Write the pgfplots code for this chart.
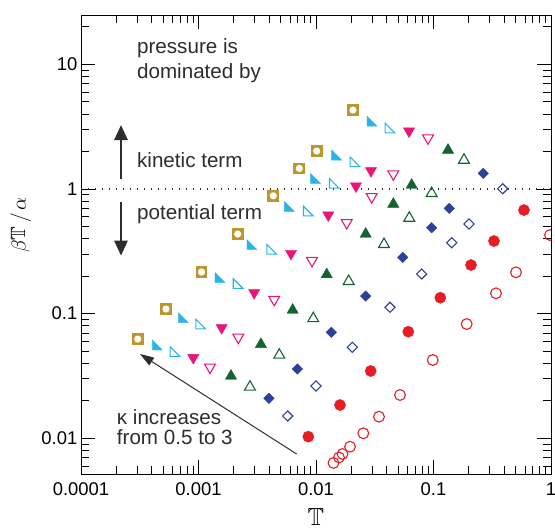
\documentclass[border=0pt]{standalone}
\usepackage{amssymb}
\usepackage{fontspec}
\setmainfont{Liberation Sans}
\usepackage{pgfplots}
\pgfplotsset{compat=1.18}
\usetikzlibrary{arrows.meta,calc}

\definecolor{cgold}{RGB}{190,150,45}
\definecolor{ccyan}{RGB}{40,180,230}
\definecolor{cmag}{RGB}{232,20,120}
\definecolor{cgreen}{RGB}{20,100,50}
\definecolor{cblue}{RGB}{45,65,155}
\definecolor{cred}{RGB}{228,30,36}
\definecolor{ctext}{RGB}{45,45,45}

\pgfdeclareplotmark{sqcirc}{%
  \pgfpathrectangle{\pgfpoint{-\pgfplotmarksize}{-\pgfplotmarksize}}{\pgfpoint{2\pgfplotmarksize}{2\pgfplotmarksize}}%
  \pgfusepath{fill}%
  \begin{pgfscope}%
  \pgfsetfillcolor{white}%
  \pgfpathcircle{\pgfpointorigin}{0.62\pgfplotmarksize}%
  \pgfusepath{fill}%
  \end{pgfscope}}
\pgfdeclareplotmark{rtri*}{%
  \pgfpathmoveto{\pgfpoint{-\pgfplotmarksize}{\pgfplotmarksize}}%
  \pgfpathlineto{\pgfpoint{-\pgfplotmarksize}{-\pgfplotmarksize}}%
  \pgfpathlineto{\pgfpoint{\pgfplotmarksize}{-\pgfplotmarksize}}%
  \pgfpathclose\pgfusepathqfillstroke}
\pgfdeclareplotmark{rtri}{%
  \pgfpathmoveto{\pgfpoint{-\pgfplotmarksize}{\pgfplotmarksize}}%
  \pgfpathlineto{\pgfpoint{-\pgfplotmarksize}{-\pgfplotmarksize}}%
  \pgfpathlineto{\pgfpoint{\pgfplotmarksize}{-\pgfplotmarksize}}%
  \pgfpathclose\pgfusepathqstroke}

\newcommand{\annfont}{\fontsize{20.7}{24}\selectfont}

\begin{document}
\begin{tikzpicture}
\begin{axis}[
  scale only axis, width=470bp, height=459.3bp,
  xmode=log, ymode=log,
  xmin=1e-4, xmax=1, ymin=0.00514, ymax=24.86,
  xtick={1e-4,1e-3,1e-2,1e-1,1},
  xticklabels={0.0001,0.001,0.01,0.1,1},
  minor xtick={2e-4,3e-4,4e-4,5e-4,6e-4,7e-4,8e-4,9e-4,
               2e-3,3e-3,4e-3,5e-3,6e-3,7e-3,8e-3,9e-3,
               2e-2,3e-2,4e-2,5e-2,6e-2,7e-2,8e-2,9e-2,
               0.2,0.3,0.4,0.5,0.6,0.7,0.8,0.9},
  ytick={0.01,0.1,1,10},
  yticklabels={0.01,0.1,1,10},
  minor ytick={0.006,0.007,0.008,0.009,
               0.02,0.03,0.04,0.05,0.06,0.07,0.08,0.09,
               0.2,0.3,0.4,0.5,0.6,0.7,0.8,0.9,
               2,3,4,5,6,7,8,9,20},
  tick align=inside,
  major tick length=14bp, minor tick length=8bp,
  tick style={black, line width=0.8bp},
  axis line style={black, line width=0.9bp},
  ticklabel style={font=\fontsize{18.5}{22}\selectfont},
  yticklabel style={inner sep=0pt, xshift=-3.5bp},
  xticklabel style={inner sep=0pt, yshift=-8.5bp},
  clip marker paths=true,
  xlabel={$\mathbb{T}$},
  xlabel style={font=\fontsize{24.88}{28}\selectfont, at={(axis description cs:0.5,-0.093)}, anchor=center},
  ylabel={$\beta\mathbb{T}\,/\,\alpha$},
  ylabel style={font=\fontsize{20.74}{24}\selectfont, at={(axis description cs:-0.128,0.543)}, anchor=center},
]

% reference line at 1
\addplot[ctext, line width=1.1bp, dash pattern=on 1.1bp off 5.9bp, forget plot] coordinates {(1e-4,1) (1,1)};

% gold squares with circle
\addplot[only marks, mark=sqcirc, mark size=5.8bp, cgold] coordinates {
(3.04e-4,0.0625) (5.29e-4,0.1089) (1.06e-3,0.2157) (2.157e-3,0.4349)
(4.33e-3,0.882) (7.21e-3,1.463) (0.01014,2.014) (0.02065,4.293)};

% cyan filled right triangles
\addplot[only marks, mark=rtri*, mark size=5bp, ccyan, mark options={line width=0.4bp}] coordinates {
(4.46e-4,0.05597) (7.42e-4,0.0927) (1.524e-3,0.1948) (2.852e-3,0.3582)
(5.93e-3,0.7227) (9.90e-3,1.216) (0.0150,1.870) (0.02997,3.503)};

% cyan open right triangles
\addplot[only marks, mark=rtri, mark size=4.8bp, ccyan, mark options={line width=1.1bp}] coordinates {
(6.31e-4,0.04951) (1.044e-3,0.0825) (2.17e-3,0.1743) (4.20e-3,0.3279)
(8.60e-3,0.6648) (0.01431,1.109) (0.02147,1.652) (0.04263,3.079)};

% magenta filled down triangles
\addplot[only marks, mark=triangle*, mark size=6.5bp, cmag, mark options={rotate=180, line width=0.4bp}] coordinates {
(9.03e-4,0.04431) (1.575e-3,0.0771) (2.979e-3,0.1471) (6.13e-3,0.3034)
(0.01273,0.6176) (0.02189,1.055) (0.02938,1.400) (0.0619,2.912)};

% magenta open down triangles
\addplot[only marks, mark=triangle, mark size=6.3bp, cmag, mark options={rotate=180, line width=1.1bp}] coordinates {
(1.253e-3,0.03711) (2.182e-3,0.06457) (4.41e-3,0.1298) (9.25e-3,0.2666)
(0.01826,0.5358) (0.02979,0.866) (0.0455,1.317) (0.0898,2.560)};

% green filled up triangles
\addplot[only marks, mark=triangle*, mark size=6.5bp, cgreen, mark options={line width=0.4bp}] coordinates {
(1.891e-3,0.03159) (3.40e-3,0.05673) (6.33e-3,0.1069) (0.01234,0.2059)
(0.02649,0.4349) (0.0455,0.7567) (0.06524,1.075) (0.1329,2.051)};

% green open up triangles
\addplot[only marks, mark=triangle, mark size=6.3bp, cgreen, mark options={line width=1.1bp}] coordinates {
(2.742e-3,0.02579) (4.87e-3,0.04656) (9.48e-3,0.0913) (0.01898,0.1816)
(0.03792,0.3595) (0.06223,0.5843) (0.0965,0.922) (0.1818,1.705)};

% blue filled diamonds
\addplot[only marks, mark=square*, mark size=3.7bp, cblue, mark options={rotate=45, line width=0.4bp}] coordinates {
(3.98e-3,0.02093) (6.93e-3,0.03595) (0.01350,0.0708) (0.02649,0.1384)
(0.0547,0.2828) (0.0965,0.4886) (0.1363,0.6989) (0.2653,1.334)};

% blue open diamonds
\addplot[only marks, mark=square, mark size=3.6bp, cblue, mark options={rotate=45, line width=1.1bp}] coordinates {
(5.74e-3,0.01509) (0.01,0.02627) (0.02037,0.05366) (0.04263,0.1123)
(0.0793,0.2078) (0.1429,0.3704) (0.2005,0.5232) (0.388,1.004)};

% red filled circles
\addplot[only marks, mark=*, mark size=5.6bp, cred, mark options={line width=0.4bp}] coordinates {
(8.60e-3,0.0103) (0.016,0.01849) (0.02921,0.03465) (0.061,0.0716)
(0.1143,0.1341) (0.2085,0.2453) (0.3272,0.3822) (0.589,0.6773)};

% red open circles
\addplot[only marks, mark=o, mark size=5.4bp, cred, mark options={line width=1.1bp}] coordinates {
(0.01409,0.00634) (0.01569,0.00702) (0.0168,0.00748) (0.01948,0.00856)
(0.02527,0.01097) (0.03437,0.0149) (0.05187,0.02224) (0.0985,0.04245)
(0.1917,0.0825) (0.3403,0.1455) (0.5037,0.2144) (0.9806,0.4269)};

% annotations
\node[anchor=base west, inner sep=0pt, text=ctext, font=\annfont] at (rel axis cs:0.119,0.9151) {pressure is};
\node[anchor=base west, inner sep=0pt, text=ctext, font=\annfont] at (rel axis cs:0.119,0.8628) {dominated by};
\node[anchor=base west, inner sep=0pt, text=ctext, font=\annfont] at (rel axis cs:0.119,0.6675) {kinetic term};
\node[anchor=base west, inner sep=0pt, text=ctext, font=\annfont] at (rel axis cs:0.119,0.5552) {potential term};
\node[anchor=base west, inner sep=0pt, text=ctext, font=\annfont] at (rel axis cs:0.076,0.1095) {κ increases};
\node[anchor=base west, inner sep=0pt, text=ctext, font=\annfont] at (rel axis cs:0.076,0.0649) {from 0.5 to 3};

\draw[ctext, line width=2.6bp, -{Triangle[length=15bp,width=13bp]}] (rel axis cs:0.0851,0.643) -- (rel axis cs:0.0851,0.7605);
\draw[ctext, line width=2.6bp, -{Triangle[length=15bp,width=13bp]}] (rel axis cs:0.0851,0.5935) -- (rel axis cs:0.0851,0.476);
\draw[ctext, line width=1bp, -{Triangle[length=14bp,width=9bp]}] (rel axis cs:0.4589,0.0442) -- (rel axis cs:0.1255,0.2619);

\end{axis}
\pgfresetboundingbox
\path[use as bounding box] ($(current axis.south west)+(-81bp,-56.7bp)$) rectangle ($(current axis.north east)+(4bp,15bp)$);
\end{tikzpicture}
\end{document}
